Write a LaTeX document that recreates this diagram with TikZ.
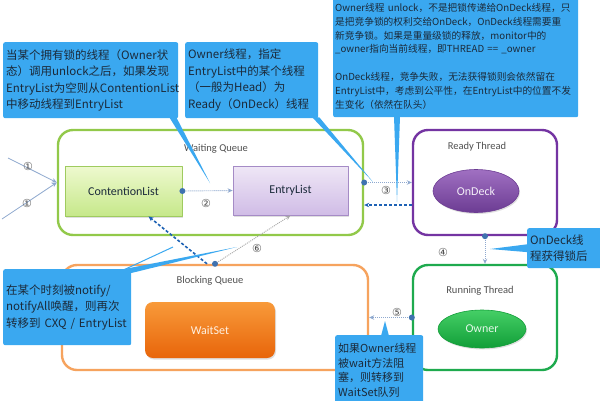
\documentclass[tikz,border=0pt]{standalone}
\usepackage{fontspec}
\setmainfont{Carlito}
\newfontfamily\cjk{Noto Sans CJK SC}
\newfontfamily\digits{DejaVu Sans}
\usetikzlibrary{shapes.geometric,arrows.meta,calc,shadows}
\hyphenpenalty=10000
\exhyphenpenalty=10000
\definecolor{myBlue}{HTML}{3AA8F0}
\definecolor{myInk}{HTML}{1B2A3A}
\definecolor{myGray}{HTML}{505050}
\definecolor{myFlow}{HTML}{8FA9CF}
\definecolor{myDot}{HTML}{3F72AF}
\definecolor{myDash}{HTML}{1E62B5}
\definecolor{wqGreen}{HTML}{92C94A}
\definecolor{readyPurple}{HTML}{7434A2}
\definecolor{runGreen}{HTML}{1EAA4E}
\definecolor{bqOrange}{HTML}{F6A35E}
\definecolor{clTop}{HTML}{EEF9CF}
\definecolor{clBot}{HTML}{C6E88A}
\definecolor{clLine}{HTML}{9FCB5F}
\definecolor{elTop}{HTML}{EFE7F6}
\definecolor{elBot}{HTML}{D0BCE6}
\definecolor{elLine}{HTML}{A58BC6}
\definecolor{odTop}{HTML}{A070C2}
\definecolor{odBot}{HTML}{6C3C93}
\definecolor{owTop}{HTML}{45CF66}
\definecolor{owBot}{HTML}{119E38}
\definecolor{wsTop}{HTML}{F89A3A}
\definecolor{wsBot}{HTML}{E8650A}

\begin{document}
\begin{tikzpicture}[x=1pt, y=-1pt, >={Stealth[length=5pt,width=4.5pt]}, line join=round]
  \tikzstyle{Q}=[draw, rounded corners=15pt, line width=2.4pt, minimum height=105pt, inner sep=0pt]
  \tikzstyle{L}=[draw, line width=0.8pt, minimum width=116pt, minimum height=50pt, font=\fontsize{12}{14}\selectfont, text=myInk, drop shadow={opacity=0.25, shadow xshift=1pt, shadow yshift=-1.5pt}]
  \tikzstyle{E}=[ellipse, draw, line width=0.6pt, font=\fontsize{12}{14}\selectfont, drop shadow={opacity=0.25, shadow xshift=1pt, shadow yshift=-1.5pt}]
  \tikzstyle{T}=[font=\fontsize{10.5}{12}\selectfont, text=myGray]
  \tikzstyle{N}=[font=\digits\fontsize{11}{12}\selectfont, text=myGray, inner sep=0pt]
  \tikzstyle{K}=[fill=myBlue, rounded corners=2pt, anchor=north west, align=left, inner xsep=3pt, inner ysep=0pt, text=myInk, font=\cjk\fontsize{11.5}{16.5}\selectfont]
  \tikzstyle{D}=[circle, fill=myDot, inner sep=0pt, minimum size=6pt]
  \tikzstyle{F}=[->, myFlow, line width=0.9pt, dash pattern=on 1pt off 1pt]
  \tikzstyle{R}=[->, myDash, line width=1.6pt, dash pattern=on 3pt off 2pt]

  \clip (0,0) rectangle (600,400);
  \fill[white] (0,0) rectangle (600,400);

  \node[Q, draw=wqGreen, minimum width=305pt] at (210.5,182.5) (wq) {};
  \node[Q, draw=readyPurple, minimum width=144pt] at (485,182.5) (ready) {};
  \node[Q, draw=runGreen, minimum width=144pt] at (485,317.5) (run) {};
  \node[Q, draw=bqOrange, minimum width=306pt] at (215,317.5) (bq) {};

  \node[T] at (216,149) (wqT) {Waiting Queue};
  \node[T] at (477,147) (readyT) {Ready Thread};
  \node[T] at (480,291) (runT) {Running Thread};
  \node[T] at (210,281) (bqT) {Blocking Queue};

  \node[L, draw=clLine, top color=clTop, bottom color=clBot, minimum width=117pt] at (123.5,191) (cl) {ContentionList};
  \node[L, draw=elLine, top color=elTop, bottom color=elBot, minimum width=115pt, minimum height=49pt] at (290.5,190.5) (el) {EntryList};
  \node[E, draw=odBot, top color=odTop, bottom color=odBot, text=white!88!odTop, minimum width=86pt, minimum height=43pt] at (476,191) (od) {OnDeck};
  \node[E, draw=owBot, top color=owTop, bottom color=owBot, text=white!85!owTop, minimum width=88pt, minimum height=38pt] at (482,329) (ow) {Owner};
  \node[L, draw=none, rounded corners=8pt, top color=wsTop, bottom color=wsBot, text=white!85!wsTop, minimum width=130pt, minimum height=56pt] at (210,330) (ws) {WaitSet};

  \coordinate (in1) at (8,158);
  \coordinate (in2) at (2,219);
  \draw[->, myFlow, line width=0.8pt] (in1) -- (wq.west);
  \draw[->, myFlow, line width=0.8pt] (in2) -- (wq.west);
  \draw[F] (cl.east) -- (el.west);
  \draw[F] (wq.east) -- (ready.west);
  \draw[R] ([yshift=-22.5pt]ready.west) -- ([yshift=-22.5pt]wq.east);
  \draw[F] (ready.south) -- (run.north);
  \draw[F] (run.west) -- (bq.east);
  \draw[F, myGray!50] (bq.north) -- (el.south);
  \draw[R] ([xshift=-8pt]bq.north) -- ([xshift=25pt]cl.south);

  \node[D] at (cl.east) (d2) {};
  \node[D] at (wq.east) (d3) {};
  \node[D] at (ready.south) (d4) {};
  \node[D] at (run.west) (d5) {};
  \node[D] at (bq.north) (d6) {};

  \node[N] at (28,166) (n1a) {①};
  \node[N] at (27,203) (n1b) {①};
  \node[N] at (206,203) (n2) {②};
  \node[N] at (386,190) (n3) {③};
  \node[N] at (443,252) (n4) {④};
  \node[N] at (397,312) (n5) {⑤};
  \node[N] at (257,248) (n6) {⑥};

  \node[K, text width=169pt, minimum height=76pt] at (3,42) (c1) {当某个拥有锁的线程（Owner状\\态）调用unlock之后，如果发现\\EntryList为空则从ContentionList\\中移动线程到EntryList};
  \node[K, text width=127pt, minimum height=76pt] at (185,42) (c2) {Owner线程，指定\\EntryList中的某个线程\\（一般为Head）为\\Ready（OnDeck）线程};
  \node[K, text width=241pt, inner xsep=2pt, minimum height=122pt, font=\cjk\fontsize{9.7}{13.8}\selectfont] at (333,-5) (c3) {Owner线程~unlock，不是把锁传递给OnDeck线程，只\\是把竞争锁的权利交给OnDeck，OnDeck线程需要重\\新竞争锁。如果是重量级锁的释放，monitor中的\\\_owner指向当前线程，即THREAD~==~\_owner\\[13.8pt]OnDeck线程，竞争失败，无法获得锁则会依然留在\\EntryList中，考虑到公平性，在EntryList中的位置不发\\生变化（依然在队头）};
  \node[K, text width=80pt, minimum height=40pt] at (527,228) (c4) {OnDeck线\\程获得锁后};
  \node[K, text width=82pt, minimum height=70pt, font=\cjk\fontsize{11}{14.5}\selectfont] at (335,335) (c5) {如果Owner线程\\被wait方法阻\\塞，则转移到\\WaitSet队列};
  \node[K, text width=122pt, minimum height=76pt] at (3,269) (c6) {在某个时刻被notify/\\notifyAll唤醒，则再次\\转移到~CXQ~/~EntryList};

  \coordinate (tip1) at (210,183);
  \coordinate (tip2) at (373,182);
  \coordinate (tip3) at (397,202);
  \coordinate (tip4) at (490,249);
  \coordinate (tip5) at (385,321);
  \coordinate (tip6) at (237,247);
  \coordinate (tip6b) at (173,247);
  \fill[myBlue] ($(c1.south east)+(-9,-1)$) -- ($(c1.south east)+(-2,-1)$) -- (tip1) -- cycle;
  \fill[myBlue] ($(c2.south east)+(-6,-1)$) -- ($(c2.south east)+(1,-1)$) -- (tip2) -- cycle;
  \fill[myBlue] ($(c3.south west)+(61,-1)$) -- ($(c3.south west)+(67,-1)$) -- (tip3) -- cycle;
  \fill[myBlue] ($(c4.west)+(1,-4)$) -- ($(c4.west)+(1,4)$) -- (tip4) -- cycle;
  \fill[myBlue] ($(c5.north west)+(46,1)$) -- ($(c5.north west)+(54,1)$) -- (tip5) -- cycle;
  \fill[myBlue] ($(c6.north east)+(-12,1)$) -- ($(c6.north east)+(0,4)$) -- (tip6) -- cycle;
  \draw[myBlue, line width=1pt] ($(c6.north east)+(-8,1)$) -- (tip6b);
\end{tikzpicture}
\end{document}
